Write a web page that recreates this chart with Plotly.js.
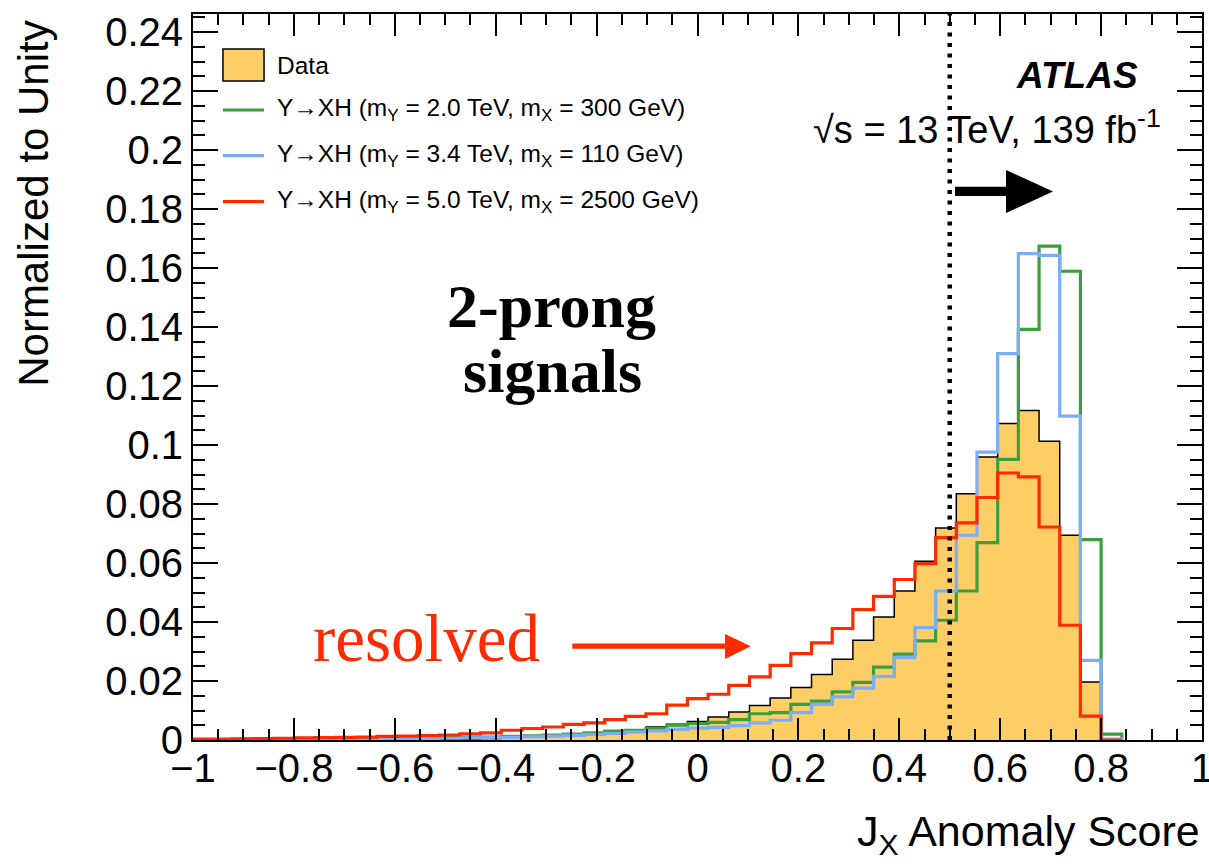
<!DOCTYPE html>
<html><head><meta charset="utf-8">
<script src="https://cdn.plot.ly/plotly-3.0.1.min.js"></script>
<style>html,body{margin:0;padding:0;background:#fff}#chart{width:1209px;height:864px}</style>
</head><body><div id="chart"></div><script>
// ---- binning (J_X anomaly score) ----
const firstEdge = -1.004;
const binWidth = 0.041;
const nBins = 45;

// ---- normalized-to-unity histograms, one value per bin (left to right) ----
const dataVals = [0, 0, 0, 0, 0, 0, 0, 0, 0, 0.0001,
  0.0001, 0.0001, 0.0002, 0.0003, 0.0005, 0.0008, 0.0011, 0.0014, 0.0019, 0.0024,
  0.0029, 0.0035, 0.0044, 0.0053, 0.0063, 0.0078, 0.0095, 0.0117, 0.0142, 0.0178,
  0.0222, 0.0274, 0.0338, 0.0417, 0.0505, 0.0606, 0.0719, 0.0835, 0.0959, 0.1073,
  0.1117, 0.1013, 0.0694, 0.0197, 0];
const green2000_300 = [0.0001, 0.0001, 0.0002, 0.0002, 0.0002, 0.0003, 0.0003, 0.0004, 0.0004, 0.0005,
  0.0006, 0.0007, 0.0008, 0.0009, 0.0010, 0.0012, 0.0014, 0.0017, 0.0020, 0.0024,
  0.0030, 0.0033, 0.0039, 0.0050, 0.0056, 0.0060, 0.0069, 0.0089, 0.0093, 0.0121,
  0.0132, 0.0163, 0.0195, 0.0247, 0.0291, 0.0336, 0.0406, 0.0505, 0.0669, 0.0951,
  0.1392, 0.1674, 0.1589, 0.0679, 0.0020];
const blue3400_110 = [0.0001, 0.0001, 0.0001, 0.0001, 0.0002, 0.0002, 0.0002, 0.0003, 0.0003, 0.0004,
  0.0005, 0.0005, 0.0006, 0.0007, 0.0008, 0.0009, 0.0011, 0.0013, 0.0016, 0.0019,
  0.0022, 0.0027, 0.0031, 0.0036, 0.0040, 0.0043, 0.0049, 0.0058, 0.0067, 0.0093,
  0.0121, 0.0146, 0.0176, 0.0216, 0.0279, 0.0381, 0.0505, 0.0694, 0.0976, 0.1310,
  0.1649, 0.1643, 0.1098, 0.0270, 0.0003];
const red5000_2500 = [0.0003, 0.0003, 0.0004, 0.0005, 0.0006, 0.0007, 0.0008, 0.0009, 0.0010, 0.0012,
  0.0013, 0.0015, 0.0017, 0.0021, 0.0024, 0.0033, 0.0039, 0.0044, 0.0053, 0.0058,
  0.0069, 0.0080, 0.0089, 0.0118, 0.0140, 0.0155, 0.0185, 0.0214, 0.0253, 0.0293,
  0.0329, 0.0378, 0.0442, 0.0487, 0.0544, 0.0598, 0.0686, 0.0736, 0.0822, 0.0905,
  0.0892, 0.0722, 0.0389, 0.0081, 0];

const legendLabels = [
  'Data',
  'Y\u2192XH (m<sub>Y</sub> = 2.0 TeV, m<sub>X</sub> = 300 GeV)',
  'Y\u2192XH (m<sub>Y</sub> = 3.4 TeV, m<sub>X</sub> = 110 GeV)',
  'Y\u2192XH (m<sub>Y</sub> = 5.0 TeV, m<sub>X</sub> = 2500 GeV)'
];
const cutValue = 0.5;

// ---- styles ----
const C_DATA = '#FDCE66', C_GREEN = '#3C9F3C', C_BLUE = '#7BAEF7', C_RED = '#FF2A00';
const FONT = 'Liberation Sans, Arial, Helvetica, sans-serif';

function stepXY(vals) {
  const xs = [firstEdge], ys = [0];
  for (let i = 0; i < vals.length; i++) { xs.push(firstEdge + i * binWidth); ys.push(vals[i]); }
  xs.push(firstEdge + vals.length * binWidth); ys.push(0);
  return {x: xs, y: ys};
}

const d = stepXY(dataVals), g = stepXY(green2000_300), b = stepXY(blue3400_110), r = stepXY(red5000_2500);
const traces = [
  {x: d.x, y: d.y, type: 'scatter', mode: 'lines', line: {shape: 'hv', color: '#000', width: 1.5},
   fill: 'tozeroy', fillcolor: C_DATA, name: 'Data', showlegend: false, hoverinfo: 'skip'},
  {x: g.x, y: g.y, type: 'scatter', mode: 'lines', line: {shape: 'hv', color: C_GREEN, width: 3.2}, showlegend: false},
  {x: b.x, y: b.y, type: 'scatter', mode: 'lines', line: {shape: 'hv', color: C_BLUE, width: 3.2}, showlegend: false},
  {x: r.x, y: r.y, type: 'scatter', mode: 'lines', line: {shape: 'hv', color: C_RED, width: 3.2}, showlegend: false}
];

// legend geometry (paper coords)
const lx0 = 0.0297, lx1 = 0.0704, ltx = 0.0813;
const rowY = [0.9297, 0.8678, 0.8048, 0.7415];
const rowColors = [null, C_GREEN, C_BLUE, C_RED];

const shapes = [
  {type: 'rect', xref: 'paper', yref: 'paper', x0: lx0, x1: lx1, y0: 0.9077, y1: 0.9518,
   fillcolor: C_DATA, line: {color: '#000', width: 1.5}},
  {type: 'line', xref: 'x', yref: 'paper', x0: cutValue, x1: cutValue, y0: 0, y1: 1,
   line: {color: '#000', width: 4.5, dash: '4px,6.5px'}, layer: 'above'},
  // black arrow
  {type: 'rect', xref: 'x', yref: 'y', x0: 0.5104, x1: 0.6155, y0: 0.18441, y1: 0.18756,
   fillcolor: '#000', line: {width: 0}},
  {type: 'path', xref: 'x', yref: 'y', path: 'M 0.6115 0.19322 L 0.7047 0.18593 L 0.6115 0.17864 Z',
   fillcolor: '#000', line: {width: 0}},
  // red arrow
  {type: 'rect', xref: 'x', yref: 'y', x0: -0.2482, x1: 0.0585, y0: 0.03095, y1: 0.03271,
   fillcolor: C_RED, line: {width: 0}},
  {type: 'path', xref: 'x', yref: 'y', path: 'M 0.0545 0.03593 L 0.1055 0.03176 L 0.0545 0.02746 Z',
   fillcolor: C_RED, line: {width: 0}}
];
for (let i = 1; i < 4; i++) {
  shapes.push({type: 'line', xref: 'paper', yref: 'paper', x0: lx0, x1: lx1, y0: rowY[i], y1: rowY[i],
    line: {color: rowColors[i], width: 3.2}});
}

const annotations = [];
for (let i = 0; i < 4; i++) {
  annotations.push({text: legendLabels[i], xref: 'paper', yref: 'paper', x: ltx, y: rowY[i],
    xanchor: 'left', yanchor: 'middle', showarrow: false, font: {family: FONT, size: 24.5, color: '#000'}});
}
annotations.push(
  {text: '<b><i>ATLAS</i></b>', xref: 'x', yref: 'y', x: 0.877, y: 0.2251, xanchor: 'right', yanchor: 'middle',
   showarrow: false, font: {family: FONT, size: 37, color: '#000'}},
  {text: '\u221As = 13 TeV, 139 fb<sup>-1</sup>', xref: 'x', yref: 'y', x: 0.922, y: 0.2078, xanchor: 'right', yanchor: 'middle',
   showarrow: false, font: {family: FONT, size: 38, color: '#000'}},
  {text: '<b>2-prong</b>', xref: 'x', yref: 'y', x: -0.289, y: 0.147, xanchor: 'center', yanchor: 'middle',
   showarrow: false, font: {family: 'Liberation Serif, Times New Roman, serif', size: 62, color: '#000'}},
  {text: '<b>signals</b>', xref: 'x', yref: 'y', x: -0.287, y: 0.125, xanchor: 'center', yanchor: 'middle',
   showarrow: false, font: {family: 'Liberation Serif, Times New Roman, serif', size: 62, color: '#000'}},
  {text: 'resolved', xref: 'x', yref: 'y', x: -0.537, y: 0.0345, xanchor: 'center', yanchor: 'middle',
   showarrow: false, font: {family: 'Liberation Serif, Times New Roman, serif', size: 67, color: C_RED}},
  {text: 'Normalized to Unity', xref: 'paper', yref: 'paper', x: -0.158, y: 0.738, xanchor: 'center', yanchor: 'middle',
   textangle: -90, showarrow: false, font: {family: FONT, size: 42, color: '#000'}},
  {text: 'J<sub>X</sub> Anomaly Score', xref: 'paper', yref: 'paper', x: 1.0, y: -0.13, xanchor: 'right', yanchor: 'middle',
   showarrow: false, font: {family: FONT, size: 43, color: '#000'}}
);

const axisCommon = {
  showgrid: false, zeroline: false, showline: true, linecolor: '#000', linewidth: 2,
  mirror: 'allticks', ticks: 'inside', tickcolor: '#000', tickwidth: 2,
  tickfont: {family: FONT, size: 40, color: '#000'}
};

const layout = {
  width: 1209, height: 864,
  margin: {l: 193, r: 7, t: 14, b: 124},
  paper_bgcolor: '#fff', plot_bgcolor: '#fff',
  showlegend: false,
  xaxis: Object.assign({}, axisCommon, {range: [-1, 1], tick0: 0, dtick: 0.2, ticklen: 22,
    ticklabeloverflow: 'allow', ticklabelstandoff: -8,
    minor: {dtick: 0.05, ticklen: 11, tickwidth: 2, tickcolor: '#000', ticks: 'inside'}}),
  yaxis: Object.assign({}, axisCommon, {range: [0, 0.2461], tick0: 0, dtick: 0.02, ticklen: 25,
    minor: {dtick: 0.005, ticklen: 12, tickwidth: 2, tickcolor: '#000', ticks: 'inside'}}),
  shapes: shapes,
  annotations: annotations
};

Plotly.newPlot('chart', traces, layout, {displayModeBar: false, staticPlot: true});
</script></body></html>
